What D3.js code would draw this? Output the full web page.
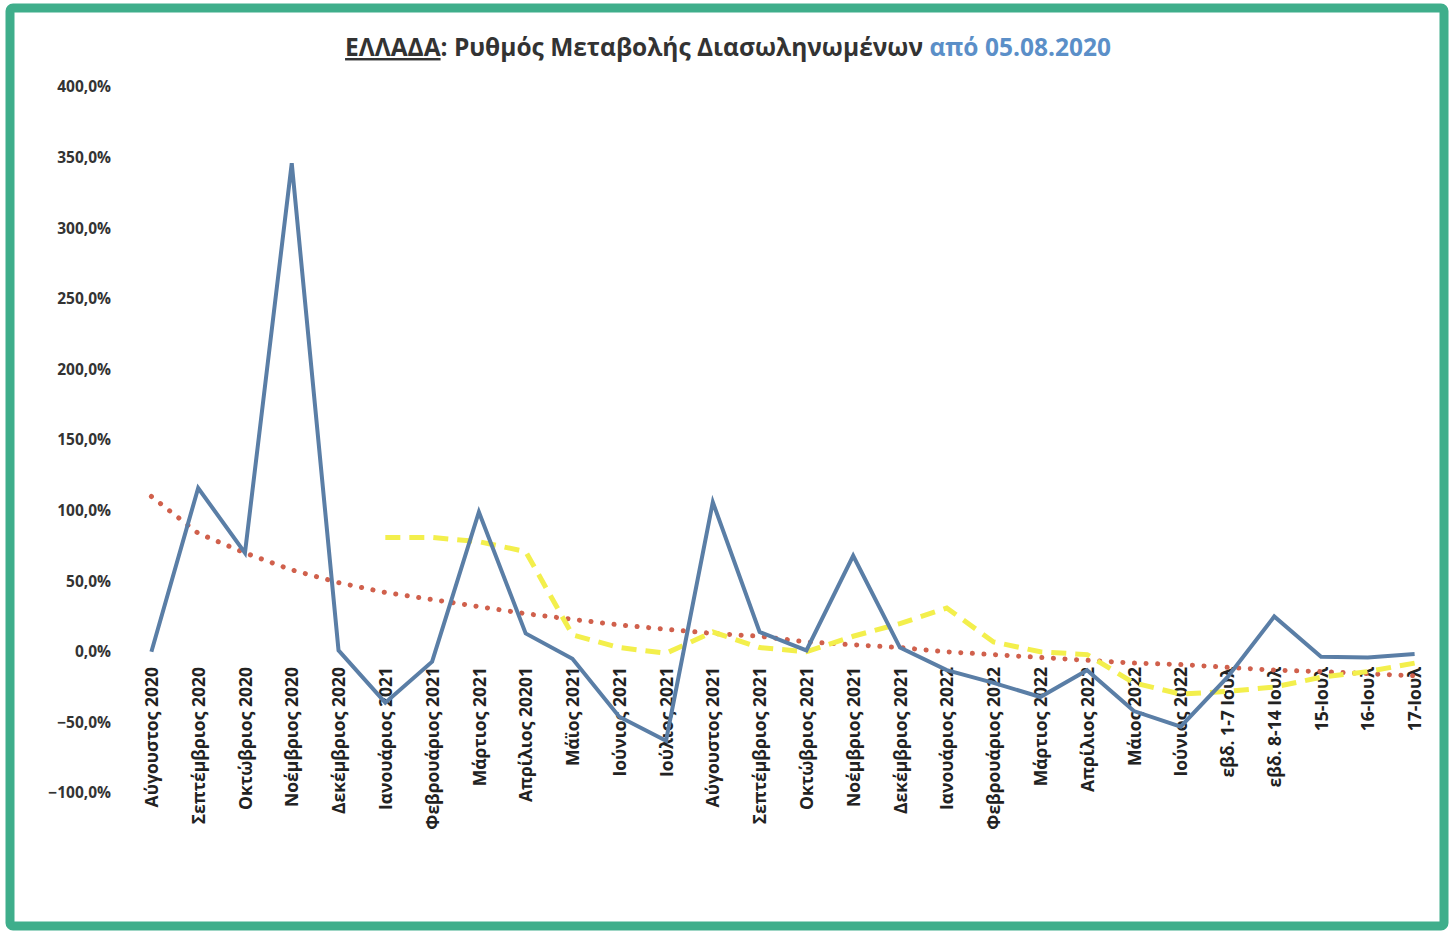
<!DOCTYPE html>
<html>
<head>
<meta charset="utf-8">
<script src="https://cdn.jsdelivr.net/npm/d3@7"></script>
<style>
  body { margin: 0; background: #fff; }
  text { font-family: "Open Sans", "Noto Sans", sans-serif; }
</style>
</head>
<body>
<svg id="chart" width="1455" height="933"></svg>
<script>
var svg = d3.select("#chart");
var width = +svg.attr("width");
var height = +svg.attr("height");

// categories (months, then weeks / days of July 2022)
var months = ["Αύγουστος 2020", "Σεπτέμβριος 2020", "Οκτώβριος 2020", "Νοέμβριος 2020",
  "Δεκέμβριος 2020", "Ιανουάριος 2021", "Φεβρουάριος 2021", "Μάρτιος 2021",
  "Απρίλιος 20201", "Μάϊος 2021", "Ιούνιος 2021", "Ιούλιος 2021", "Αύγουστος 2021",
  "Σεπτέμβριος 2021", "Οκτώβριος 2021", "Νοέμβριος 2021", "Δεκέμβριος 2021",
  "Ιανουάριος 2022", "Φεβρουάριος 2022", "Μάρτιος 2022", "Απρίλιος 2022", "Μάιος 2022",
  "Ιούνιος 2022", "εβδ. 1-7 Ιουλ", "εβδ. 8-14 Ιουλ", "15-Ιουλ", "16-Ιουλ", "17-Ιουλ"];

// rate of change of intubated patients (%)
var rateValues = [0, 116, 70, 346, 1, -36, -7, 99, 13, -5, -46, -63, 106, 14, 1, 68, 3,
  -13, -22, -32, -13, -42, -53, -18, 25, -3.5, -4, -1.5];

// dashed yellow line, starts at Ιανουάριος 2021
var avgValues = [null, null, null, null, null, 81, 81, 78, 71, 12, 3, -1, 14, 3, 0, 11, 20,
  31, 7, 0, -2, -22, -30, -28, -25, -18, -14, -8];

// dotted red trend line
var trendValues = [110, 84, 70, 58, 49, 42, 37, 32, 27, 23, 19, 16, 13, 11, 7, 5, 3,
  0, -2, -4, -6, -8, -9, -11, -13, -14, -15.5, -17];

var yTicks = [400, 350, 300, 250, 200, 150, 100, 50, 0, -50, -100];

var xLeft = 128;
var xRight = 1438;
var yTop = 87;
var yBottom = 793;

var x = d3.scalePoint()
  .domain(months)
  .range([xLeft, xRight])
  .padding(0.5);

var y = d3.scaleLinear()
  .domain([-100, 400])
  .range([yBottom, yTop]);

// frame
svg.append("rect")
  .attr("x", 10).attr("y", 8)
  .attr("width", 1434).attr("height", 918)
  .attr("rx", 3)
  .attr("fill", "none")
  .attr("stroke", "#3fae8b")
  .attr("stroke-width", 9);

// title
var title = svg.append("text")
  .attr("x", 728)
  .attr("y", 56)
  .attr("text-anchor", "middle")
  .style("font-size", "24.5px")
  .style("font-weight", "bold")
  .attr("fill", "#333");
title.append("tspan").text("ΕΛΛΑΔΑ").style("text-decoration", "underline");
title.append("tspan").text(": Ρυθμός Μεταβολής Διασωληνωμένων ");
title.append("tspan").text("από 05.08.2020").attr("fill", "#5b8fc8");

// y axis labels (no axis line)
var leftAxis = d3.axisLeft(y)
  .tickValues(yTicks)
  .tickSize(0)
  .tickPadding(0)
  .tickFormat(function (d) { return d3.format(".1f")(d).replace(".", ",") + "%"; });

var yAxisG = svg.append("g")
  .attr("transform", "translate(111,0)")
  .call(leftAxis);
yAxisG.select(".domain").remove();
yAxisG.selectAll("text")
  .style("font-size", "15.5px")
  .style("font-weight", "bold")
  .attr("fill", "#333");

// x axis labels, rotated
var bottomAxis = d3.axisBottom(x).tickSize(0).tickPadding(0);
var xAxisG = svg.append("g")
  .attr("transform", "translate(0,667)")
  .call(bottomAxis);
xAxisG.select(".domain").remove();
xAxisG.selectAll("text")
  .attr("transform", "rotate(-90)")
  .attr("text-anchor", "end")
  .attr("x", 0)
  .attr("y", 0)
  .attr("dy", "0.35em")
  .style("font-size", "17.5px")
  .style("font-weight", "bold")
  .attr("fill", "#222");

function makeLine(values) {
  return d3.line()
    .defined(function (d) { return d != null; })
    .x(function (d, i) { return x(months[i]); })
    .y(function (d) { return y(d); })(values);
}

// trend (red dotted)
svg.append("path")
  .attr("d", makeLine(trendValues))
  .attr("fill", "none")
  .attr("stroke", "#d0604c")
  .attr("stroke-width", 5)
  .attr("stroke-linecap", "round")
  .attr("stroke-dasharray", "0.1 11.5");

// yellow dashed
svg.append("path")
  .attr("d", makeLine(avgValues))
  .attr("fill", "none")
  .attr("stroke", "#f3ef4c")
  .attr("stroke-width", 5)
  .attr("stroke-dasharray", "15 9");

// blue main line
svg.append("path")
  .attr("d", makeLine(rateValues))
  .attr("fill", "none")
  .attr("stroke", "#5a7ea6")
  .attr("stroke-width", 4)
  .attr("stroke-linejoin", "miter");
</script>
</body>
</html>
